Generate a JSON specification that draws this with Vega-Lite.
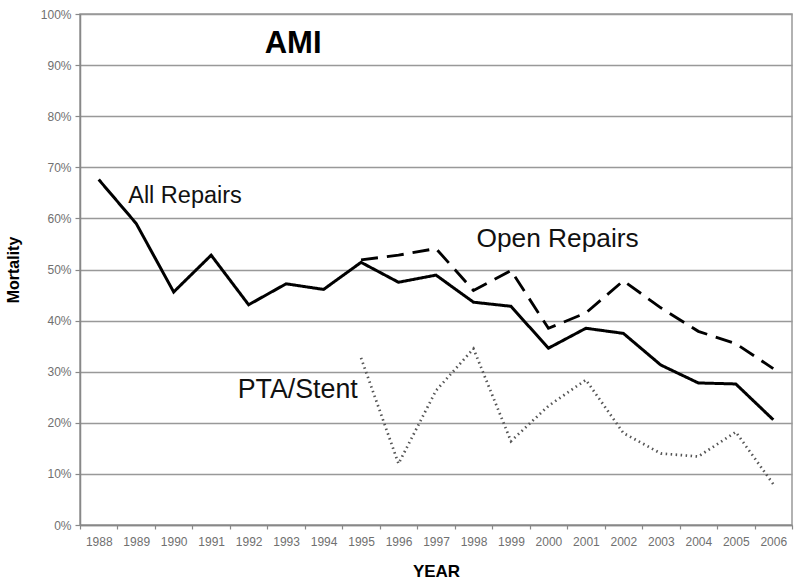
{
  "$schema": "https://vega.github.io/schema/vega-lite/v6.json",
  "width": 712,
  "height": 511,
  "autosize": "none",
  "padding": {"left": 80, "top": 14, "right": 8, "bottom": 62},
  "background": "white",
  "config": {
    "font": "Liberation Sans",
    "view": {"stroke": "#999999", "strokeWidth": 1.5},
    "axis": {"labelColor": "#707070", "labelFont": "Liberation Sans", "labelFontSize": 12, "domainColor": "#888888", "tickColor": "#888888", "domainWidth": 1.5, "tickWidth": 1.2, "titleFont": "Liberation Sans", "titleFontWeight": "bold", "titleColor": "#000000"}
  },
  "datasets": {
    "series": [
      {"year": "1988", "series": "All Repairs", "value": 67.6},
      {"year": "1989", "series": "All Repairs", "value": 59.0},
      {"year": "1990", "series": "All Repairs", "value": 45.6},
      {"year": "1991", "series": "All Repairs", "value": 52.8},
      {"year": "1992", "series": "All Repairs", "value": 43.1},
      {"year": "1993", "series": "All Repairs", "value": 47.2},
      {"year": "1994", "series": "All Repairs", "value": 46.1},
      {"year": "1995", "series": "All Repairs", "value": 51.4},
      {"year": "1996", "series": "All Repairs", "value": 47.5},
      {"year": "1997", "series": "All Repairs", "value": 48.9},
      {"year": "1998", "series": "All Repairs", "value": 43.6},
      {"year": "1999", "series": "All Repairs", "value": 42.8},
      {"year": "2000", "series": "All Repairs", "value": 34.6},
      {"year": "2001", "series": "All Repairs", "value": 38.5},
      {"year": "2002", "series": "All Repairs", "value": 37.5},
      {"year": "2003", "series": "All Repairs", "value": 31.3},
      {"year": "2004", "series": "All Repairs", "value": 27.8},
      {"year": "2005", "series": "All Repairs", "value": 27.6},
      {"year": "2006", "series": "All Repairs", "value": 20.6},
      {"year": "1995", "series": "Open Repairs", "value": 51.9},
      {"year": "1996", "series": "Open Repairs", "value": 52.8},
      {"year": "1997", "series": "Open Repairs", "value": 54.1},
      {"year": "1998", "series": "Open Repairs", "value": 45.9},
      {"year": "1999", "series": "Open Repairs", "value": 49.8},
      {"year": "2000", "series": "Open Repairs", "value": 38.5},
      {"year": "2001", "series": "Open Repairs", "value": 41.5},
      {"year": "2002", "series": "Open Repairs", "value": 47.8},
      {"year": "2003", "series": "Open Repairs", "value": 42.5},
      {"year": "2004", "series": "Open Repairs", "value": 37.9},
      {"year": "2005", "series": "Open Repairs", "value": 35.5},
      {"year": "2006", "series": "Open Repairs", "value": 30.6},
      {"year": "1995", "series": "PTA/Stent", "value": 32.7},
      {"year": "1996", "series": "PTA/Stent", "value": 12.0},
      {"year": "1997", "series": "PTA/Stent", "value": 26.3},
      {"year": "1998", "series": "PTA/Stent", "value": 34.5},
      {"year": "1999", "series": "PTA/Stent", "value": 16.4},
      {"year": "2000", "series": "PTA/Stent", "value": 23.3},
      {"year": "2001", "series": "PTA/Stent", "value": 28.4},
      {"year": "2002", "series": "PTA/Stent", "value": 18.0},
      {"year": "2003", "series": "PTA/Stent", "value": 14.0},
      {"year": "2004", "series": "PTA/Stent", "value": 13.4},
      {"year": "2005", "series": "PTA/Stent", "value": 18.2},
      {"year": "2006", "series": "PTA/Stent", "value": 8.0}
    ],
    "labels": [
      {"year": "1989", "value": 64.4, "label": "All Repairs"},
      {"year": "1998", "value": 56.0, "label": "Open Repairs"},
      {"year": "1992", "value": 26.4, "label": "PTA/Stent"},
      {"year": "1993", "value": 94.2, "label": "AMI"}
    ]
  },
  "layer": [
    {
      "data": {"name": "series"},
      "mark": {"type": "line", "strokeJoin": "miter", "strokeCap": "butt"},
      "encoding": {
        "x": {
          "field": "year", "type": "ordinal",
          "scale": {"type": "band", "paddingInner": 0, "paddingOuter": 0, "domain": ["1988","1989","1990","1991","1992","1993","1994","1995","1996","1997","1998","1999","2000","2001","2002","2003","2004","2005","2006"]},
          "axis": {"title": "YEAR", "titleFontSize": 17, "titlePadding": 16, "labelAngle": 0, "tickBand": "extent", "tickSize": 4, "labelPadding": 7, "grid": false}
        },
        "y": {
          "field": "value", "type": "quantitative",
          "scale": {"domain": [0, 100], "nice": false},
          "axis": {"title": "Mortality", "titleFontSize": 16, "titlePadding": 19, "values": [0,10,20,30,40,50,60,70,80,90,100], "labelExpr": "datum.value + '%'", "tickSize": 5, "labelPadding": 4, "grid": true, "gridColor": "#999999", "gridWidth": 1.5}
        },
        "detail": {"field": "series"},
        "color": {"field": "series", "type": "nominal", "legend": null, "scale": {"domain": ["All Repairs","Open Repairs","PTA/Stent"], "range": ["#000000", "#000000", "#555555"]}},
        "strokeDash": {"field": "series", "type": "nominal", "legend": null, "scale": {"domain": ["All Repairs","Open Repairs","PTA/Stent"], "range": [[1, 0], [17, 9], [1.5, 3.5]]}},
        "strokeWidth": {"field": "series", "type": "nominal", "legend": null, "scale": {"domain": ["All Repairs","Open Repairs","PTA/Stent"], "range": [3, 2.7, 1.6]}}
      }
    },
    {
      "data": {"name": "labels"},
      "transform": [{"filter": "datum.label === 'All Repairs'"}],
      "mark": {"type": "text", "font": "Liberation Sans", "fontSize": 23.5, "color": "#111111", "baseline": "middle", "align": "left", "dx": -8},
      "encoding": {
        "x": {"field": "year", "type": "ordinal"},
        "y": {"field": "value", "type": "quantitative"},
        "text": {"field": "label"}
      }
    },
    {
      "data": {"name": "labels"},
      "transform": [{"filter": "datum.label === 'Open Repairs'"}],
      "mark": {"type": "text", "font": "Liberation Sans", "fontSize": 26.3, "color": "#111111", "baseline": "middle", "align": "left", "dx": 3},
      "encoding": {
        "x": {"field": "year", "type": "ordinal"},
        "y": {"field": "value", "type": "quantitative"},
        "text": {"field": "label"}
      }
    },
    {
      "data": {"name": "labels"},
      "transform": [{"filter": "datum.label === 'PTA/Stent'"}],
      "mark": {"type": "text", "font": "Liberation Sans", "fontSize": 26.8, "color": "#111111", "baseline": "middle", "align": "left", "dx": -11},
      "encoding": {
        "x": {"field": "year", "type": "ordinal"},
        "y": {"field": "value", "type": "quantitative"},
        "text": {"field": "label"}
      }
    },
    {
      "data": {"name": "labels"},
      "transform": [{"filter": "datum.label === 'AMI'"}],
      "mark": {"type": "text", "font": "Liberation Sans", "fontWeight": "bold", "fontSize": 31, "color": "#000000", "baseline": "middle", "align": "center", "dx": 7},
      "encoding": {
        "x": {"field": "year", "type": "ordinal"},
        "y": {"field": "value", "type": "quantitative"},
        "text": {"field": "label"}
      }
    }
  ]
}
